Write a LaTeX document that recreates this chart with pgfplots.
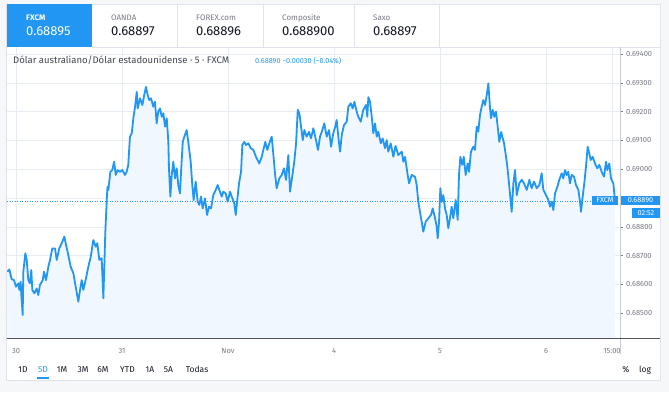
\documentclass[border=0pt]{standalone}
\usepackage{pgfplots}
\pgfplotsset{compat=1.18}
\usepackage{pgfplotstable}
\usepackage{fontspec}
\setmainfont{Fira Sans}
\definecolor{tvblue}{HTML}{2196F3}
\definecolor{outerbg}{HTML}{F6F7F9}
\definecolor{gridc}{HTML}{E6ECF2}
\definecolor{fillc}{HTML}{F1F7FE}
\definecolor{tgrey}{HTML}{787B86}
\definecolor{tdark}{HTML}{131722}
\definecolor{titlec}{HTML}{434651}
\definecolor{bordc}{HTML}{E0E3EB}
\definecolor{axisline}{HTML}{50535E}
\definecolor{sepc}{HTML}{C9CBD1}

\pgfplotstableread{
d p
-0.082 0.68644
-0.063 0.68652
-0.041 0.68618
-0.019 0.68615
0.000 0.68592
0.022 0.68604
0.031 0.68581
0.044 0.68609
0.050 0.68563
0.063 0.68494
0.069 0.68644
0.088 0.68708
0.101 0.68685
0.116 0.68615
0.132 0.68604
0.144 0.68650
0.154 0.68581
0.173 0.68569
0.195 0.68586
0.210 0.68563
0.226 0.68598
0.252 0.68615
0.264 0.68644
0.283 0.68615
0.305 0.68661
0.321 0.68685
0.342 0.68725
0.368 0.68725
0.384 0.68685
0.408 0.68725
0.431 0.68743
0.456 0.68766
0.472 0.68737
0.493 0.68702
0.516 0.68661
0.541 0.68639
0.566 0.68586
0.588 0.68540
0.604 0.68581
0.620 0.68615
0.635 0.68581
0.660 0.68621
0.682 0.68661
0.705 0.68696
0.729 0.68754
0.752 0.68731
0.767 0.68743
0.786 0.68685
0.808 0.68691
0.824 0.68552
0.833 0.68661
0.842 0.68777
0.856 0.68893
0.863 0.68939
0.871 0.68928
0.890 0.68991
0.908 0.68997
0.925 0.69026
0.941 0.68980
0.959 0.68997
0.981 0.68991
1.003 0.68997
1.028 0.68980
1.044 0.68991
1.059 0.69015
1.075 0.69113
1.092 0.69125
1.107 0.69177
1.123 0.69217
1.139 0.69269
1.148 0.69211
1.170 0.69246
1.192 0.69223
1.210 0.69258
1.226 0.69286
1.242 0.69258
1.258 0.69240
1.274 0.69246
1.295 0.69217
1.311 0.69234
1.327 0.69159
1.342 0.69200
1.358 0.69211
1.375 0.69182
1.390 0.69194
1.406 0.69148
1.422 0.69177
1.437 0.69095
1.443 0.69003
1.456 0.68905
1.469 0.68980
1.484 0.69026
1.500 0.68968
1.516 0.69003
1.531 0.68945
1.547 0.68916
1.557 0.68991
1.573 0.69095
1.588 0.69113
1.610 0.69136
1.625 0.69095
1.648 0.69026
1.663 0.68945
1.676 0.68893
1.695 0.68957
1.714 0.68887
1.729 0.68876
1.745 0.68905
1.761 0.68864
1.783 0.68899
1.802 0.68841
1.821 0.68870
1.840 0.68864
1.861 0.68910
1.884 0.68928
1.903 0.68945
1.918 0.68928
1.941 0.68905
1.956 0.68922
1.978 0.68916
1.997 0.68887
2.019 0.68922
2.041 0.68899
2.059 0.68882
2.073 0.68841
2.092 0.68910
2.104 0.68951
2.123 0.68991
2.135 0.69084
2.154 0.69095
2.170 0.69084
2.192 0.69090
2.214 0.69073
2.239 0.69067
2.264 0.69043
2.295 0.69020
2.318 0.69043
2.333 0.69067
2.352 0.69095
2.371 0.69067
2.390 0.69090
2.412 0.69113
2.427 0.69055
2.443 0.68986
2.459 0.68934
2.484 0.68968
2.507 0.68980
2.528 0.69003
2.547 0.68963
2.569 0.69049
2.585 0.68922
2.610 0.68986
2.625 0.69026
2.642 0.69090
2.658 0.69206
2.673 0.69194
2.689 0.69148
2.705 0.69101
2.720 0.69136
2.742 0.69113
2.764 0.69130
2.783 0.69107
2.805 0.69142
2.830 0.69101
2.849 0.69067
2.868 0.69113
2.890 0.69136
2.908 0.69159
2.931 0.69113
2.953 0.69136
2.972 0.69078
2.993 0.69125
3.012 0.69148
3.025 0.69171
3.044 0.69101
3.057 0.69061
3.073 0.69119
3.094 0.69153
3.120 0.69165
3.135 0.69217
3.158 0.69229
3.176 0.69211
3.192 0.69234
3.214 0.69200
3.229 0.69182
3.252 0.69165
3.276 0.69206
3.302 0.69223
3.314 0.69182
3.324 0.69250
3.340 0.69234
3.356 0.69182
3.371 0.69125
3.387 0.69159
3.403 0.69113
3.418 0.69130
3.441 0.69090
3.459 0.69107
3.481 0.69073
3.497 0.69101
3.512 0.69061
3.535 0.69090
3.560 0.69043
3.580 0.69081
3.607 0.69049
3.639 0.69061
3.654 0.69026
3.670 0.69043
3.695 0.68980
3.708 0.68951
3.733 0.68980
3.764 0.68974
3.780 0.68945
3.795 0.68887
3.811 0.68852
3.827 0.68818
3.842 0.68783
3.865 0.68818
3.890 0.68830
3.915 0.68841
3.931 0.68864
3.953 0.68830
3.969 0.68800
3.978 0.68760
3.991 0.68818
4.003 0.68934
4.016 0.68887
4.031 0.68910
4.047 0.68864
4.063 0.68841
4.078 0.68795
4.094 0.68830
4.110 0.68870
4.125 0.68830
4.148 0.68893
4.167 0.68824
4.179 0.68980
4.192 0.69043
4.210 0.69015
4.224 0.69043
4.242 0.68980
4.261 0.69020
4.274 0.68991
4.292 0.69061
4.314 0.69078
4.330 0.69067
4.346 0.69148
4.361 0.69130
4.377 0.69188
4.393 0.69217
4.408 0.69240
4.425 0.69223
4.441 0.69258
4.456 0.69298
4.472 0.69211
4.481 0.69177
4.497 0.69206
4.512 0.69182
4.528 0.69200
4.544 0.69148
4.559 0.69095
4.577 0.69129
4.604 0.69090
4.623 0.69043
4.635 0.69009
4.654 0.68939
4.676 0.68852
4.692 0.68951
4.708 0.68997
4.724 0.68910
4.748 0.68951
4.771 0.68963
4.792 0.68951
4.818 0.68928
4.843 0.68963
4.865 0.68934
4.887 0.68957
4.912 0.68934
4.937 0.68945
4.959 0.68986
4.975 0.68928
5.000 0.68910
5.022 0.68893
5.038 0.68870
5.054 0.68887
5.069 0.68858
5.085 0.68916
5.107 0.68939
5.125 0.68963
5.148 0.68986
5.163 0.68968
5.179 0.68997
5.195 0.68980
5.210 0.68991
5.226 0.68951
5.242 0.68980
5.264 0.68974
5.283 0.68945
5.305 0.68928
5.321 0.68887
5.330 0.68852
5.346 0.68905
5.361 0.68951
5.377 0.69009
5.393 0.69078
5.408 0.69055
5.422 0.69032
5.440 0.69043
5.462 0.69020
5.484 0.69003
5.503 0.69015
5.525 0.68991
5.547 0.68974
5.566 0.69026
5.578 0.68997
5.597 0.69020
5.613 0.68968
5.635 0.68951
5.651 0.68890
}\fxcm

\begin{document}
\begin{tikzpicture}[x=1pt,y=1pt]
\fill[outerbg] (0,0) rectangle (669,392);
\fill[white] (6.5,{392-380}) rectangle (660,{392-4.5});
\draw[bordc, line width=0.6pt] (6.5,{392-380}) rectangle (660,{392-4.5});
% tabs
\fill[tvblue] (6.5,{392-47}) rectangle (92,{392-4.5});
\foreach \xx in {177,263,354,439} {\draw[bordc, line width=0.6pt] (\xx,{392-4.5}) -- (\xx,{392-47});}
\draw[bordc, line width=0.6pt] (92,{392-47}) -- (660,{392-47});
\node[anchor=base west, inner sep=0pt, text=white, font=\fontsize{8}{9}\selectfont\bfseries] at (26,{392-20.7}) {FXCM};
\node[anchor=base west, inner sep=0pt, text=white, font=\fontsize{13}{15}\selectfont] at (26,{392-36}) {0.68895};
\node[anchor=base west, inner sep=0pt, text=tgrey, font=\fontsize{8}{9}\selectfont] at (111,{392-20.7}) {OANDA};
\node[anchor=base west, inner sep=0pt, text=tdark, font=\fontsize{13}{15}\selectfont] at (111,{392-36}) {0.68897};
\node[anchor=base west, inner sep=0pt, text=tgrey, font=\fontsize{8}{9}\selectfont] at (196,{392-20.7}) {FOREX.com};
\node[anchor=base west, inner sep=0pt, text=tdark, font=\fontsize{13}{15}\selectfont] at (196,{392-36}) {0.68896};
\node[anchor=base west, inner sep=0pt, text=tgrey, font=\fontsize{8}{9}\selectfont] at (282,{392-20.7}) {Composite};
\node[anchor=base west, inner sep=0pt, text=tdark, font=\fontsize{13}{15}\selectfont] at (282,{392-36}) {0.688900};
\node[anchor=base west, inner sep=0pt, text=tgrey, font=\fontsize{8}{9}\selectfont] at (373,{392-20.7}) {Saxo};
\node[anchor=base west, inner sep=0pt, text=tdark, font=\fontsize{13}{15}\selectfont] at (373,{392-36}) {0.68897};

\begin{axis}[
  at={(7pt,54pt)}, anchor=south west,
  width=613pt, height=291pt, scale only axis,
  xmin=-0.085, xmax=5.698, ymin=0.684139, ymax=0.694243,
  axis line style={draw=none},
  grid=major, major grid style={gridc, line width=0.6pt},
  xtick={0,1,2,3,4,5}, xticklabels={30,31,Nov,4,5,6},
  extra x ticks={5.623}, extra x tick labels={15:00},
  extra x tick style={grid=major},
  xtick pos=bottom, ytick pos=right,
  xtick style={draw=none},
  ytick={0.685,0.686,0.687,0.688,0.690,0.691,0.692,0.693,0.694},
  extra y ticks={0.689}, extra y tick labels={},
  extra y tick style={grid=major, ytick style={draw=none}},
  yticklabel pos=right,
  ytick style={draw=tgrey, line width=0.5pt},
  tick align=outside, major tick length=3pt,
  yticklabel style={/pgf/number format/fixed, /pgf/number format/fixed zerofill, /pgf/number format/precision=5, /pgf/number format/assume math mode=true, anchor=west, inner sep=0pt, xshift=3pt},
  ticklabel style={font=\fontsize{7.5}{9}\selectfont, text=tgrey},
  xticklabel style={anchor=north, inner sep=0pt, yshift=-7pt},
  scaled y ticks=false,
]
\addplot[draw=none, fill=fillc] table[x=d, y=p] {\fxcm} \closedcycle;
\draw[tvblue, dotted, line width=0.5pt] (axis cs:-0.085,0.6889) -- (axis cs:5.698,0.6889);
\addplot[tvblue, line width=1.8pt, line join=round, mark=none] table[x=d, y=p] {\fxcm};
\end{axis}

% legend/title
\node[anchor=base west, inner sep=0pt, text=titlec, font=\fontsize{9.5}{11}\selectfont] at (13,{392-63.5}) {Dólar australiano/Dólar estadounidense · 5 · FXCM};
\node[anchor=base west, inner sep=0pt, text=tvblue, font=\fontsize{7.3}{9}\selectfont] at (255,{392-63}) {0.68890 −0.00030 (−0.04\%)};

% right scale separator and bottom axis line
\draw[sepc, line width=1pt] (620,{392-47}) -- (620,{392-354});
\draw[axisline, line width=0.8pt] (6.5,{392-338}) -- (660,{392-338});

% price labels
\fill[tvblue] (591.7,{392-204.5}) rectangle (618.3,{392-196});
\node[text=white, inner sep=0pt, font=\fontsize{7.3}{9}\selectfont] at (605,{392-200.3}) {FXCM};
\fill[tvblue] (620.5,{392-205}) rectangle (660,{392-196});
\node[text=white, inner sep=0pt, font=\fontsize{7.3}{9}\selectfont] at (640.5,{392-200.5}) {0.68890};
\fill[tvblue] (631.7,{392-217.7}) rectangle (660,{392-208.3});
\node[text=white, inner sep=0pt, font=\fontsize{7.3}{9}\selectfont] at (646,{392-213}) {02:52};

% bottom toolbar
\foreach \cx/\lab in {23/1D,62/1M,83/3M,103/6M,127.5/YTD,150/1A,168.5/5A,197/Todas,626/\%,645/log} {
  \node[anchor=base, inner sep=0pt, text=tdark, font=\fontsize{8.5}{10}\selectfont] at (\cx,{392-372.5}) {\lab};
}
\node[anchor=base, inner sep=0pt, text=tvblue, font=\fontsize{8.5}{10}\selectfont] at (43,{392-372.5}) {5D};
\draw[tvblue, line width=1.5pt] (37,{392-378}) -- (49,{392-378});
\end{tikzpicture}
\end{document}
